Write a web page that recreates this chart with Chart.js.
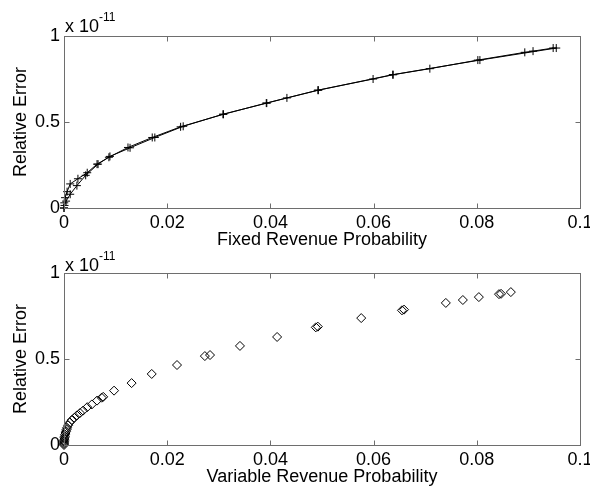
<!DOCTYPE html>
<html>
<head>
<meta charset="utf-8">
<script src="https://cdn.jsdelivr.net/npm/chart.js@4/dist/chart.umd.min.js"></script>
<style>
  html, body { margin: 0; padding: 0; background: #fff; overflow: hidden; }
  #wrap { position: relative; width: 590px; height: 487px; }
  canvas { position: absolute; left: 0; }
  #topChart { top: 0; }
  #bottomChart { top: 237px; }
</style>
</head>
<body>
<div id="wrap">
  <canvas id="topChart" width="590" height="250"></canvas>
  <canvas id="bottomChart" width="590" height="250"></canvas>
</div>
<script>
// Axis ticks (y values are in units of 1e-11)
const xTicks = [0, 0.02, 0.04, 0.06, 0.08, 0.1];
const yTicks = [0, 0.5, 1];

// Top panel - fixed revenue, two runs
const fixedX1 = [0, 0.0001, 0.0004, 0.0012, 0.0025, 0.0042, 0.0066, 0.0089, 0.0128, 0.0176, 0.0231, 0.0308, 0.0393, 0.0432, 0.0492, 0.0599, 0.0638, 0.0709, 0.0802, 0.0893, 0.0909, 0.0948];
const fixedY1 = [0, 0.015, 0.04, 0.08, 0.13, 0.19, 0.255, 0.30, 0.35, 0.41, 0.475, 0.545, 0.61, 0.64, 0.685, 0.75, 0.775, 0.81, 0.86, 0.905, 0.912, 0.93];
const fixedX2 = [0, 0.00005, 0.0002, 0.0006, 0.0012, 0.0027, 0.0045, 0.0064, 0.0087, 0.0124, 0.0171, 0.0226, 0.0309, 0.0392, 0.0493, 0.0637, 0.0806, 0.0954];
const fixedY2 = [0, 0.03, 0.06, 0.095, 0.14, 0.17, 0.205, 0.255, 0.295, 0.352, 0.41, 0.472, 0.545, 0.61, 0.685, 0.775, 0.86, 0.93];

// Bottom panel - variable revenue
const varX = [0, 0, 0.00001, 0.00002, 0.00004, 0.00007, 0.0001, 0.00015, 0.0002, 0.0003, 0.0004, 0.0005, 0.0006, 0.0008, 0.0011, 0.0015, 0.0020, 0.0025, 0.0031, 0.0037, 0.0045, 0.0054, 0.0064, 0.0073, 0.0076, 0.0097, 0.0131, 0.017, 0.0219, 0.0273, 0.0283, 0.0341, 0.0413, 0.0488, 0.0492, 0.0576, 0.0655, 0.0659, 0.074, 0.0773, 0.0804, 0.0843, 0.0847, 0.0866];
const varY = [0, 0.006, 0.012, 0.019, 0.026, 0.034, 0.042, 0.05, 0.06, 0.07, 0.08, 0.09, 0.1, 0.115, 0.13, 0.145, 0.158, 0.172, 0.186, 0.2, 0.22, 0.236, 0.258, 0.275, 0.28, 0.316, 0.36, 0.413, 0.465, 0.517, 0.523, 0.576, 0.628, 0.684, 0.688, 0.738, 0.783, 0.787, 0.826, 0.843, 0.86, 0.877, 0.879, 0.889];

const FONT = "'Liberation Sans', Arial, Helvetica, sans-serif";
const AXIS_GRAY = '#6e6e6e';

function toPoints(xs, ys) {
    return xs.map((x, i) => ({ x: x, y: ys[i] }));
}

// Box with inward ticks and the exponent label, MATLAB style
const matlabBox = {
    id: 'matlabBox',
    afterDraw(chart, args, opts) {
        const ctx = chart.ctx;
        const { left, top, right, bottom } = chart.chartArea;
        const xs = chart.scales.x, ys = chart.scales.y;
        const L = Math.round(left) + 0.5, R = Math.round(right) + 0.5;
        const T = Math.round(top) + 0.5, B = Math.round(bottom) + 0.5;
        ctx.save();
        ctx.strokeStyle = AXIS_GRAY;
        ctx.lineWidth = 1;
        ctx.strokeRect(L, T, R - L, B - T);
        ctx.beginPath();
        xTicks.forEach(v => {
            const px = Math.round(xs.getPixelForValue(v)) + 0.5;
            ctx.moveTo(px, B); ctx.lineTo(px, B - 5);
            ctx.moveTo(px, T); ctx.lineTo(px, T + 5);
        });
        yTicks.forEach(v => {
            const py = Math.round(ys.getPixelForValue(v)) + 0.5;
            ctx.moveTo(L, py); ctx.lineTo(L + 5, py);
            ctx.moveTo(R, py); ctx.lineTo(R - 5, py);
        });
        ctx.stroke();

        // "x 10^-11"
        const base = top - (opts.lift || 4);
        ctx.fillStyle = '#000';
        ctx.textBaseline = 'alphabetic';
        ctx.textAlign = 'left';
        ctx.font = '18px ' + FONT;
        ctx.fillText('x 10', left + 1, base);
        const w = ctx.measureText('x 10').width;
        ctx.font = '12px ' + FONT;
        ctx.fillText('-11', left + 1 + w, base - 11);
        ctx.restore();
    }
};

function makeOptions(xTitle, lift) {
    return {
        responsive: false,
        animation: false,
        devicePixelRatio: 1,
        layout: { padding: { left: 0, top: 36, right: 10, bottom: 0 } },
        plugins: {
            legend: { display: false },
            tooltip: { enabled: false },
            matlabBox: { lift: lift }
        },
        scales: {
            x: {
                type: 'linear',
                min: 0,
                max: 0.1,
                afterBuildTicks: s => { s.ticks = xTicks.map(v => ({ value: v })); },
                afterFit: s => { s.height = 42; s.paddingLeft = 0; s.paddingRight = 0; },
                grid: { display: false, drawTicks: false },
                border: { display: false },
                ticks: {
                    padding: 4,
                    maxRotation: 0,
                    autoSkip: false,
                    color: '#000',
                    font: { family: FONT, size: 18 },
                    callback: v => String(v)
                },
                title: {
                    display: true,
                    text: xTitle,
                    color: '#000',
                    font: { family: FONT, size: 18 },
                    padding: { top: 0, bottom: -1 }
                }
            },
            y: {
                type: 'linear',
                min: 0,
                max: 1,
                afterBuildTicks: s => { s.ticks = yTicks.map(v => ({ value: v })); },
                afterFit: s => { s.width = 64; },
                grid: { display: false, drawTicks: false },
                border: { display: false },
                ticks: {
                    padding: 4,
                    color: '#000',
                    font: { family: FONT, size: 18 },
                    callback: v => String(v)
                },
                title: {
                    display: true,
                    text: 'Relative Error',
                    color: '#000',
                    font: { family: FONT, size: 18 },
                    padding: { top: 10, bottom: 0 }
                }
            }
        }
    };
}

new Chart(document.getElementById('topChart'), {
    type: 'scatter',
    data: {
        datasets: [
            {
                data: toPoints(fixedX1, fixedY1),
                showLine: true,
                borderColor: '#000',
                borderWidth: 1,
                pointStyle: 'cross',
                pointRadius: 4,
                pointBorderColor: '#000',
                pointBorderWidth: 1,
                clip: false
            },
            {
                data: toPoints(fixedX2, fixedY2),
                showLine: true,
                borderColor: '#000',
                borderWidth: 1,
                pointStyle: 'cross',
                pointRadius: 4,
                pointBorderColor: '#000',
                pointBorderWidth: 1,
                clip: false
            }
        ]
    },
    options: makeOptions('Fixed Revenue Probability', 4),
    plugins: [matlabBox]
});

new Chart(document.getElementById('bottomChart'), {
    type: 'scatter',
    data: {
        datasets: [
            {
                data: toPoints(varX, varY),
                showLine: false,
                pointStyle: 'rectRot',
                pointRadius: 4.5,
                pointBackgroundColor: 'rgba(0,0,0,0)',
                pointBorderColor: '#000',
                pointBorderWidth: 1,
                clip: false
            }
        ]
    },
    options: makeOptions('Variable Revenue Probability', 2),
    plugins: [matlabBox]
});
</script>
</body>
</html>
